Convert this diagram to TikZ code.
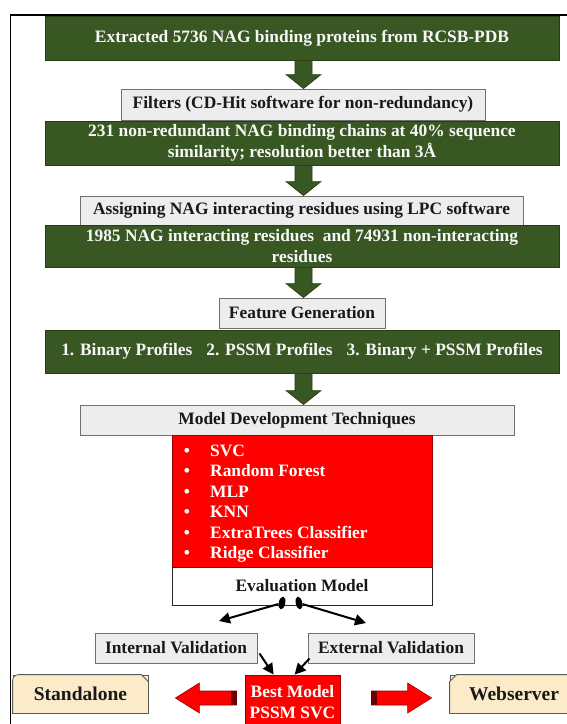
\documentclass[tikz,border=0pt]{standalone}
\usepackage{fontspec}
\setmainfont{Liberation Serif}
\usetikzlibrary{arrows.meta,calc,shapes.geometric}

\definecolor{gfill}{HTML}{385723}
\definecolor{gdark}{HTML}{263C17}
\definecolor{grayfill}{HTML}{EDEDED}
\definecolor{grayline}{HTML}{6F6F6F}
\definecolor{redfill}{HTML}{FF0000}
\definecolor{reddark}{HTML}{9A0000}
\definecolor{cream}{HTML}{FCEBC9}
\definecolor{creamline}{HTML}{5A5A5A}

% downward block arrow between two stacked boxes, on the common axis
\newcommand\gdown[2]{%
  \fill[garrow] let \p1=(#1.south -| axis), \p2=(#2.north -| axis) in
    (\x1-8.5pt,\y1) -- (\x1+8.5pt,\y1) -- (\x1+8.5pt,\y2+14pt) --
    (\x1+17.5pt,\y2+14pt) -- (\x1,\y2) -- (\x1-17.5pt,\y2+14pt) --
    (\x1-8.5pt,\y2+14pt) -- cycle;}

\begin{document}
\begin{tikzpicture}[x=1pt,y=-1pt,
  font=\fontsize{17.4}{21.5}\selectfont\bfseries,
  greenbox/.style={draw=gdark, line width=0.8pt, fill=gfill,
    text=white!94!gray, minimum width=514pt, align=center, inner sep=0pt},
  graybox/.style={draw=grayline, line width=0.8pt, fill=grayfill,
    text=black!90, align=center, inner sep=0pt},
  redbox/.style={draw=reddark, line width=0.8pt, fill=redfill,
    text=white, align=center, inner sep=0pt},
  whitebox/.style={draw=black!85, line width=0.9pt, fill=white,
    text=black!90, inner sep=0pt},
  creambox/.style={draw=creamline, line width=0.8pt, fill=cream, text=black!90},
  garrow/.style={fill=gfill, draw=gdark, line width=0.6pt},
  itemtext/.style={text=white, inner sep=0pt},
  blob/.style={ellipse, fill=black, minimum width=6.5pt, minimum height=13pt, inner sep=0pt},
  conn/.style={line width=2pt, black, -{Triangle[length=11pt,width=11pt]}},
  blockarrow/.style={fill=redfill, draw=reddark, line width=0.6pt},
  blockface/.style={fill=reddark!70!black},
]
\useasboundingbox (0,0) rectangle (567,724);
\clip (0,0) rectangle (567,724);

% outer frame
\draw[line width=1.2pt] (10.5,800) -- (10.5,15) -- (620,15);

\coordinate (axis) at (303.5,0);

% pipeline boxes
\node[greenbox, minimum height=44pt] (extract) at (302,38)
  {Extracted 5736 NAG binding proteins from RCSB-PDB};
\node[graybox, minimum width=364pt, minimum height=31pt] (filters) at (303,104.5)
  {Filters (CD-Hit software for non-redundancy)};
\node[greenbox, minimum height=44pt] (chains) at (302,143)
  {231 non-redundant NAG binding chains at 40\% sequence\\similarity; resolution better than 3Å};
\node[graybox, minimum width=443pt, minimum height=29pt] (assign) at (301.5,210.5)
  {Assigning NAG interacting residues using LPC software};
\node[greenbox, minimum height=42pt] (residues) at (302,246)
  {1985 NAG interacting residues~ and 74931 non-interacting\\residues};
\node[graybox, minimum width=166pt, minimum height=30pt] (feature) at (302,313)
  {Feature Generation};
\node[greenbox, minimum height=43pt] (profiles) at (302,351.5)
  {1. Binary Profiles\hspace{0.8em}2. PSSM Profiles\hspace{0.8em}3. Binary + PSSM Profiles};
\node[graybox, minimum width=434pt, minimum height=30pt] (modeldev) at (297,420)
  {Model Development Techniques};

\gdown{extract}{filters}
\gdown{chains}{assign}
\gdown{residues}{feature}
\gdown{profiles}{modeldev}

% list of classifiers
\node[redbox, minimum width=260pt, minimum height=132pt] (methods) at (302,501) {};
\foreach \i/\t/\yy in {1/SVC/456, 2/Random Forest/476.5, 3/MLP/497,
    4/KNN/517.5, 5/ExtraTrees Classifier/538, 6/Ridge Classifier/558.5}{
  \node[itemtext, anchor=base] (dot\i) at (187,\yy) {•};
  \node[itemtext, anchor=base west] (item\i) at (210,\yy) {\t};
}

\node[whitebox, minimum width=260pt, minimum height=38pt] (eval) at (302,586)
  {Evaluation Model};

% split towards the two validations
\node[blob, rotate=-12] (knotL) at (282,603) {};
\node[blob, rotate=12] (knotR) at (299,603) {};
\coordinate (tipL) at (219,621);
\coordinate (tipR) at (366,623);
\draw[conn] (knotL) -- (tipL);
\draw[conn] (knotR) -- (tipR);

\node[graybox, minimum width=162pt, minimum height=30pt] (intv) at (176,648)
  {Internal Validation};
\node[graybox, minimum width=166pt, minimum height=30pt] (extv) at (391,648)
  {External Validation};

\node[redbox, minimum width=95pt, minimum height=54pt] (best) at (292.5,702)
  {Best Model\\PSSM SVC};

\draw[conn] ([xshift=2pt,yshift=10pt]intv.south east) -- ([xshift=29pt]best.north west);
\draw[conn] ([xshift=2pt,yshift=5pt]extv.south west) -- ([xshift=50pt]best.north west);

% deployment targets
\node[creambox, minimum width=135pt, minimum height=38pt, inner sep=0pt] (sa) at (80.5,694) {};
\fill[cream, draw=creamline, line width=0.8pt]
  (sa.south west) -- ([yshift=-6pt]sa.north west)
  arc[start angle=180, end angle=90, radius=6pt]
  -- ([xshift=-7pt]sa.north east) -- ([yshift=-7pt]sa.north east)
  -- (sa.south east) -- cycle;
\node[font=\fontsize{19.5}{22}\selectfont\bfseries, text=black!90] (satext) at (sa.center) {Standalone};

\node[creambox, minimum width=150pt, minimum height=38pt, inner sep=0pt] (web) at (525,694) {};
\fill[cream, draw=creamline, line width=0.8pt]
  (web.south east) -- ([yshift=-6pt]web.north east)
  arc[start angle=0, end angle=90, radius=6pt]
  -- ([xshift=7pt]web.north west) -- ([yshift=-7pt]web.north west)
  -- (web.south west) -- cycle;
\node[font=\fontsize{19.5}{22}\selectfont\bfseries, text=black!90, anchor=west] (webtext) at ([xshift=16pt]web.west) {Webserver};

% block arrows from the best model outwards
\fill[blockarrow] let \p1=([xshift=-8pt]best.west), \p2=([xshift=27pt,yshift=-4pt]sa.east) in
  (\x2,\y2) -- (\x2+24pt,\y2+15pt) -- (\x2+24pt,\y2+7pt) -- (\x1,\y2+7pt)
  -- (\x1,\y2-7pt) -- (\x2+24pt,\y2-7pt) -- (\x2+24pt,\y2-15pt) -- cycle;
\fill[blockface] let \p1=([xshift=-8pt]best.west), \p2=([xshift=27pt,yshift=-4pt]sa.east) in
  (\x1-6pt,\y2-7pt) rectangle (\x1,\y2+7pt);

\fill[blockarrow] let \p1=([xshift=31pt]best.east), \p2=([xshift=-18pt,yshift=-4pt]web.west) in
  (\x2,\y2) -- (\x2-24pt,\y2+15pt) -- (\x2-24pt,\y2+7pt) -- (\x1,\y2+7pt)
  -- (\x1,\y2-7pt) -- (\x2-24pt,\y2-7pt) -- (\x2-24pt,\y2-15pt) -- cycle;
\fill[blockface] let \p1=([xshift=31pt]best.east), \p2=([xshift=-18pt,yshift=-4pt]web.west) in
  (\x1,\y2-7pt) rectangle (\x1+6pt,\y2+7pt);
\end{tikzpicture}
\end{document}
